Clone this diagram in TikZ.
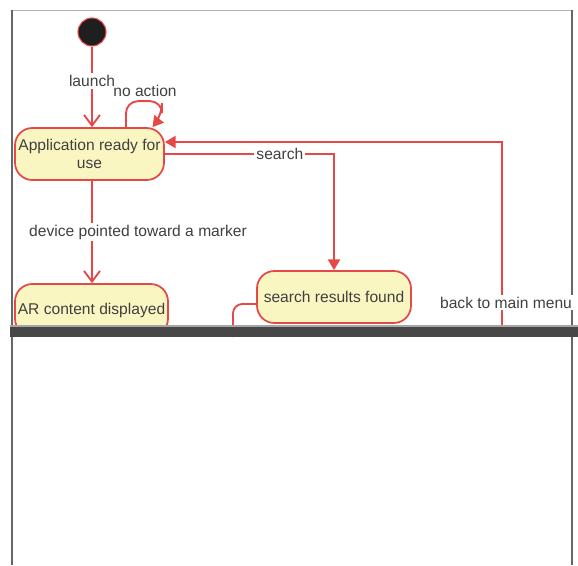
\documentclass[tikz,border=0pt]{standalone}
\usepackage{fontspec}
\setmainfont{Liberation Sans}
\usetikzlibrary{arrows.meta,calc}
\definecolor{statefill}{RGB}{250,246,194}
\definecolor{statered}{RGB}{230,72,72}
\definecolor{labelgray}{RGB}{64,64,64}

\begin{document}
\begin{tikzpicture}[x=0.75pt,y=-0.75pt,font=\fontsize{11.7}{13.5}\selectfont,text=labelgray]

    \useasboundingbox (0,0) rectangle (578,565);
    % frame
    \draw[black!30] (12,10) -- (572,10);
    \draw[black!60,line width=1pt] (12,10) -- (12,565);
    \draw[black!60,line width=1pt] (572,10) -- (572,565);

    \begin{scope}[every node/.style={rectangle,rounded corners=13pt,draw=statered,fill=statefill,line width=1.3pt,minimum height=39pt,align=center,inner xsep=0.5pt,inner ysep=2pt}]
        \node[minimum width=111.75pt] (app) at (89.5,154) {Application ready for\\use};
        \node[minimum width=114.75pt] (ar) at (91.5,310) {AR content displayed};
        \node[minimum width=115.5pt] (res) at (334,297) {search results found};
    \end{scope}
    \node[circle,draw=statered,fill=black!88,line width=0.8pt,minimum size=21pt,inner sep=0pt] (init) at (92,32) {};

    \coordinate (menu) at (502,337);
    \coordinate (resout) at (233,337);

    \begin{scope}[every node/.style={fill=white,inner sep=1.5pt}, every edge/.style={draw=statered,line width=1.4pt}]
        \path [-{Straight Barb[length=8pt,width=12pt]}] (init) edge node[pos=0.43] {launch} (init |- app.north);
        \path [-{Straight Barb[length=8pt,width=12pt]}] (init |- app.south) edge node[xshift=34.5pt] {device pointed toward a marker} (init |- ar.north);
    \end{scope}

    \begin{scope}[statered,line width=1.4pt,every node/.style={fill=white,inner sep=1.5pt,text=labelgray}]
        % self loop
        \draw[-{Triangle[length=8pt,width=9pt]},rounded corners=9pt] ($(app.north)+(36.5,0)$) -- ++(0,-26) -- ++(36,0) -- ++(0,14) -- ($(app.north)+(63,0)$);
        \node[fill=none] at (145,91) {no action};
        \draw[-{Triangle[length=8pt,width=9pt]}] (app.east) -| node[pos=0.34] {search} (res.north);
        \draw[-{Triangle[length=8pt,width=9pt]}] (menu) |- node[pos=0.088,xshift=3pt] {back to main menu} ($(app.east)+(0,-12)$);
        \draw[rounded corners=7pt] ($(res.west)+(0,7)$) -| (resout);
    \end{scope}

    % damaged strip
    \fill[black!72] (10,325) rectangle (578,337);
    \fill[black!35] (10,325) rectangle (578,327);

\end{tikzpicture}
\end{document}
